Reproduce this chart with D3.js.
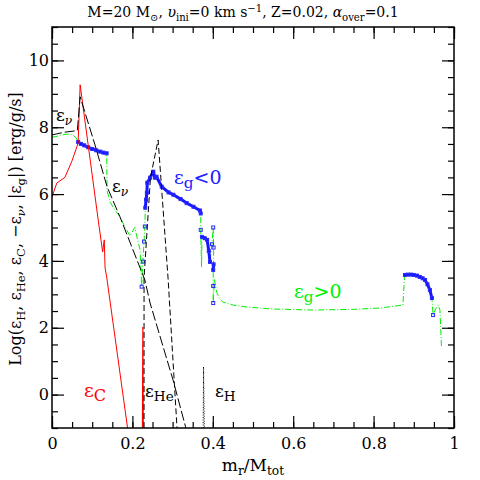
<!DOCTYPE html>
<html>
<head>
<meta charset="utf-8">
<script src="https://d3js.org/d3.v7.min.js"></script>
<style>
  body { margin: 0; background: #fff; }
  text { font-family: "DejaVu Serif", serif; fill: #000; }
</style>
</head>
<body>
<script>
// ---- data (mr/Mtot, log eps) ----
var epsCX  = [0, 0.012, 0.032, 0.05, 0.065, 0.07, 0.115, 0.126, 0.130, 0.132, 0.136, 0.188];
var epsCY  = [5.92, 6.33, 6.5, 7.0, 7.53, 9.27, 5.22, 4.27, 4.63, 3.79, 3.52, -1];
var epsC2X = [0.225, 0.226, 0.227];
var epsC2Y = [-1, 2.02, -1];

var epsNuX = [0, 0.03, 0.063, 0.07, 0.107, 0.137, 0.169, 0.231, 0.244, 0.301, 0.333];
var epsNuY = [7.77, 7.85, 7.9, 8.91, 7.47, 6.22, 5.32, 3.43, 2.74, 0.44, -1];

var epsHeX = [0.229, 0.229, 0.245, 0.264, 0.289, 0.311];
var epsHeY = [-1, 3.5, 6.5, 7.62, 3.43, -1];

var epsHX  = [0.376, 0.377, 0.379];
var epsHY  = [-1, 0.83, -1];

// |eps_g| with the sign of eps_g (-1 drawn as blue squares)
var egX = [0, 0.01, 0.02, 0.035, 0.045, 0.055, 0.06,
  0.065, 0.072, 0.08, 0.09, 0.10, 0.11, 0.12, 0.128, 0.136,
  0.137, 0.145, 0.155, 0.169, 0.18, 0.194, 0.206, 0.213, 0.219, 0.222,
  0.223, 0.226, 0.229, 0.231, 0.232, 0.234, 0.236, 0.237, 0.244, 0.252, 0.256, 0.260,
  0.273, 0.29, 0.302, 0.32, 0.335, 0.352, 0.368, 0.370, 0.370,
  0.372,
  0.373, 0.38, 0.386, 0.39, 0.393, 0.398, 0.401, 0.402, 0.402, 0.401, 0.401, 0.401,
  0.404, 0.41, 0.418, 0.425, 0.45, 0.485, 0.55, 0.649, 0.75, 0.816, 0.873, 0.877,
  0.878, 0.885, 0.893, 0.9, 0.908, 0.915, 0.922, 0.928, 0.934, 0.940, 0.945, 0.948,
  0.953, 0.961, 0.965, 0.969];
var egY = [7.70, 7.72, 7.76, 7.79, 7.80, 7.74, 7.68,
  7.56, 7.50, 7.46, 7.40, 7.35, 7.31, 7.27, 7.24, 7.22,
  6.1, 5.75, 5.55, 5.32, 5.05, 4.75, 5.0, 4.63, 4.33, 3.53,
  3.23, 3.98, 4.58, 5.03, 5.59, 5.83, 6.04, 6.34, 6.49, 6.67, 6.49, 6.52,
  6.22, 6.05, 5.98, 5.85, 5.73, 5.62, 5.51, 5.42, 4.93,
  3.82,
  4.72, 4.68, 4.63, 4.3, 3.97, 4.5, 5.0, 4.4, 3.9, 3.73, 3.25, 2.74,
  3.45, 3.05, 2.85, 2.77, 2.68, 2.62, 2.56, 2.53, 2.55, 2.59, 2.68, 3.58,
  3.58, 3.59, 3.59, 3.58, 3.56, 3.52, 3.48, 3.43, 3.3, 3.13, 2.89, 2.38,
  2.53, 2.68, 2.53, 1.39];
var egSign = [1, 1, 1, 1, 1, 1, 1,
  -1, -1, -1, -1, -1, -1, -1, -1, -1,
  1, 1, 1, 1, 1, 1, 1, 1, 1, 1,
  -1, -1, -1, -1, -1, -1, -1, -1, -1, -1, -1, -1,
  -1, -1, -1, -1, -1, -1, -1, -1, -1,
  1,
  -1, -1, -1, -1, -1, -1, -1, -1, -1, -1, -1, -1,
  1, 1, 1, 1, 1, 1, 1, 1, 1, 1, 1, 1,
  -1, -1, -1, -1, -1, -1, -1, -1, -1, -1, -1, -1,
  1, 1, 1, 1];

var xMajor = [0, 0.2, 0.4, 0.6, 0.8, 1];
var xMajorLabels = ["0", "0.2", "0.4", "0.6", "0.8", "1"];
var yMajor = [0, 2, 4, 6, 8, 10];
var yMajorLabels = ["0", "2", "4", "6", "8", "10"];

// ---- layout ----
var W = 480, H = 480;
var L = 52, R = 454, T = 27, B = 428;

var x = d3.scaleLinear().domain([0, 1]).range([L, R]);
var y = d3.scaleLinear().domain([-1, 11]).range([B, T]);

var svg = d3.select("body").append("svg")
  .attr("width", W).attr("height", H);

svg.append("clipPath").attr("id", "clip")
  .append("rect").attr("x", L).attr("y", T).attr("width", R - L).attr("height", B - T);

function pts(xs, ys) { return xs.map(function(v, i) { return [v, ys[i]]; }); }

var line = d3.line()
  .x(function(d) { return x(d[0]); })
  .y(function(d) { return y(d[1]); });

var plot = svg.append("g").attr("clip-path", "url(#clip)");

// eps_g (green dash-dot, full curve)
var eg = egX.map(function(v, i) { return [v, egY[i], egSign[i]]; });
plot.append("path").attr("d", line(eg))
  .attr("fill", "none").attr("stroke", "#00f000").attr("stroke-width", 1)
  .attr("stroke-dasharray", "6,2,1,2");

// eps_g < 0 : blue squares, joined where they are close
var segs = [];
for (var i = 1; i < eg.length; i++) {
  if (eg[i][2] < 0 && eg[i - 1][2] < 0) {
    var dx = x(eg[i][0]) - x(eg[i - 1][0]), dy = y(eg[i][1]) - y(eg[i - 1][1]);
    if (Math.sqrt(dx * dx + dy * dy) < 12) segs.push([eg[i - 1], eg[i]]);
  }
}
plot.selectAll(".negseg").data(segs).enter().append("path")
  .attr("class", "negseg")
  .attr("d", function(d) { return line(d); })
  .attr("fill", "none").attr("stroke", "#1515ff").attr("stroke-width", 3)
  .attr("stroke-linecap", "round");
plot.selectAll(".negpt").data(eg.filter(function(d) { return d[2] < 0; })).enter().append("rect")
  .attr("class", "negpt")
  .attr("x", function(d) { return x(d[0]) - 1.5; })
  .attr("y", function(d) { return y(d[1]) - 1.5; })
  .attr("width", 3).attr("height", 3)
  .attr("fill", "none").attr("stroke", "#2a2aff").attr("stroke-width", 1);

// eps_C (red)
plot.append("path").attr("d", line(pts(epsCX, epsCY)))
  .attr("fill", "none").attr("stroke", "#ff0000").attr("stroke-width", 1);
plot.append("path").attr("d", line(pts(epsC2X, epsC2Y)))
  .attr("fill", "none").attr("stroke", "#ff0000").attr("stroke-width", 1.2);

// -eps_nu (long dash)
plot.append("path").attr("d", line(pts(epsNuX, epsNuY)))
  .attr("fill", "none").attr("stroke", "#000").attr("stroke-width", 1)
  .attr("stroke-dasharray", "10,3");

// eps_He (dash)
plot.append("path").attr("d", line(pts(epsHeX, epsHeY)))
  .attr("fill", "none").attr("stroke", "#000").attr("stroke-width", 1)
  .attr("stroke-dasharray", "6,3");

// eps_H (dotted)
plot.append("path").attr("d", line(pts(epsHX, epsHY)))
  .attr("fill", "none").attr("stroke", "#000").attr("stroke-width", 1)
  .attr("stroke-dasharray", "1,1.5");

// ---- axes, ticks inward on all four sides ----
var xMinor = d3.range(0, 1.0001, 0.05);
var yMinor = d3.range(-1, 11.0001, 0.5);

function ticks(axisFn, scale, vals, len, tx, ty, fmt) {
  var a = axisFn(scale).tickValues(vals).tickSize(len).tickSizeOuter(0);
  if (fmt) a.tickFormat(function(d, i) { return fmt[i]; }); else a.tickFormat("");
  var g = svg.append("g").attr("transform", "translate(" + tx + "," + ty + ")").call(a);
  g.select(".domain").remove();
  g.selectAll(".tick line").attr("stroke", "#000").attr("stroke-width", 1.2);
  return g;
}

var gxb = ticks(d3.axisBottom, x, xMajor, -12, 0, B, xMajorLabels);
ticks(d3.axisBottom, x, xMinor, -6, 0, B);
ticks(d3.axisTop, x, xMajor, -12, 0, T);
ticks(d3.axisTop, x, xMinor, -6, 0, T);
var gyl = ticks(d3.axisLeft, y, yMajor, -12, L, 0, yMajorLabels);
ticks(d3.axisLeft, y, yMinor, -6, L, 0);
ticks(d3.axisRight, y, yMajor, -12, R, 0);
ticks(d3.axisRight, y, yMinor, -6, R, 0);

gxb.selectAll("text").attr("y", 10).attr("font-size", 16)
  .style("font-family", "'DejaVu Serif', serif");
gyl.selectAll("text").attr("x", -3).attr("font-size", 16)
  .style("font-family", "'DejaVu Serif', serif");

svg.append("rect").attr("x", L).attr("y", T).attr("width", R - L).attr("height", B - T)
  .attr("fill", "none").attr("stroke", "#000").attr("stroke-width", 1.5);

// ---- text ----
function rich(parent, parts, attrs) {
  var t = parent.append("text");
  Object.keys(attrs).forEach(function(k) { t.attr(k, attrs[k]); });
  var shift = 0;
  parts.forEach(function(p) {
    var s = p.t === "sub" ? 4 : p.t === "sup" ? -5 : 0;
    var ts = t.append("tspan").text(p.s).attr("dy", s - shift);
    shift = s;
    if (p.t === "sub" || p.t === "sup") ts.attr("font-size", p.fs || "72%");
    if (p.it) ts.attr("font-style", "italic");
    if (p.fill) ts.attr("fill", p.fill);
  });
  return t;
}

// title
rich(svg, [
  {s: "M=20 M"}, {s: "\u2299", t: "sub"}, {s: ", "}, {s: "\u03c5", it: true},
  {s: "ini", t: "sub"}, {s: "=0 km s"}, {s: "\u22121", t: "sup"},
  {s: ", Z=0.02, "}, {s: "\u03b1", it: true}, {s: "over", t: "sub"}, {s: "=0.1"}
], {x: 243, y: 17, "text-anchor": "middle", "font-size": 14});

// x label
rich(svg, [{s: "m"}, {s: "r", t: "sub"}, {s: "/M"}, {s: "tot", t: "sub"}],
  {x: 253, y: 471, "text-anchor": "middle", "font-size": 17});

// y label
rich(svg, [
  {s: "Log(\u03b5"}, {s: "H", t: "sub"}, {s: ", \u03b5"}, {s: "He", t: "sub"},
  {s: ", \u03b5"}, {s: "C", t: "sub"}, {s: ", \u2212\u03b5"}, {s: "\u03bd", t: "sub", it: true},
  {s: ", |\u03b5"}, {s: "g", t: "sub"}, {s: "|) [erg/g/s]"}
], {x: 0, y: 0, "text-anchor": "middle", "font-size": 16,
    transform: "translate(21,229) rotate(-90)"});

// curve labels
rich(svg, [{s: "\u03b5"}, {s: "\u03bd", t: "sub", it: true}],
  {x: 56, y: 121, "font-size": 17});
rich(svg, [{s: "\u03b5"}, {s: "\u03bd", t: "sub", it: true}],
  {x: 112, y: 192, "font-size": 17});
rich(svg, [{s: "\u03b5"}, {s: "g", t: "sub", fs: "80%"}, {s: "<0"}],
  {x: 174, y: 184, "font-size": 19, fill: "#2020ff"}).selectAll("tspan").attr("fill", "#2020ff");
rich(svg, [{s: "\u03b5"}, {s: "g", t: "sub", fs: "80%"}, {s: ">0"}],
  {x: 294, y: 298, "font-size": 19}).selectAll("tspan").attr("fill", "#00f000");
rich(svg, [{s: "\u03b5"}, {s: "C", t: "sub", fs: "85%"}],
  {x: 84, y: 397, "font-size": 19}).selectAll("tspan").attr("fill", "#ff0000");
rich(svg, [{s: "\u03b5"}, {s: "He", t: "sub", fs: "80%"}],
  {x: 145, y: 397, "font-size": 17});
rich(svg, [{s: "\u03b5"}, {s: "H", t: "sub", fs: "80%"}],
  {x: 215, y: 397, "font-size": 17});
</script>
</body>
</html>
